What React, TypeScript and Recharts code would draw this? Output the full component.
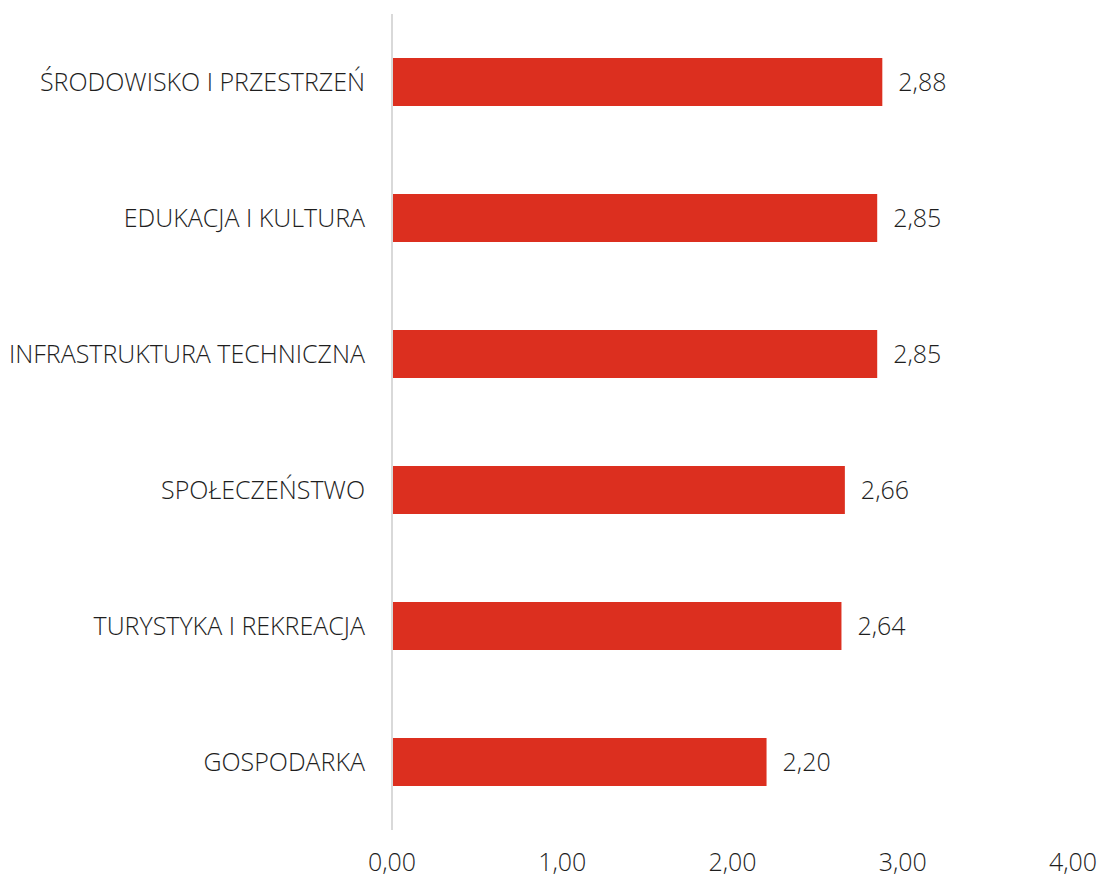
import { BarChart, Bar, XAxis, YAxis, LabelList } from "recharts";

const categories = [
  "ŚRODOWISKO I PRZESTRZEŃ",
  "EDUKACJA I KULTURA",
  "INFRASTRUKTURA TECHNICZNA",
  "SPOŁECZEŃSTWO",
  "TURYSTYKA I REKREACJA",
  "GOSPODARKA",
];
const values = [2.88, 2.85, 2.85, 2.66, 2.64, 2.2];
const xTicks = [0, 1, 2, 3, 4];

const data = categories.map((name, i) => ({ name, value: values[i] }));

const fmt = (v: number) => v.toFixed(2).replace(".", ",");

const FONT = "'Open Sans', 'Noto Sans', sans-serif";
const TEXT = { fill: "#1e1e1e", fontSize: 25, fontWeight: 300 };

export default function App() {
  return (
    <div style={{ position: "absolute", left: 0, top: 0, background: "#fff" }}>
      <BarChart
        width={1099}
        height={879}
        data={data}
        layout="vertical"
        margin={{ top: 14, right: 26, bottom: 19, left: 0 }}
        style={{ fontFamily: FONT }}
      >
        <XAxis
          type="number"
          domain={[0, 4]}
          ticks={xTicks}
          tickFormatter={fmt}
          axisLine={false}
          tickLine={false}
          tickMargin={17}
          height={30}
          tick={TEXT}
        />
        <YAxis
          type="category"
          dataKey="name"
          width={392}
          axisLine={{ stroke: "#d9d9d9", strokeWidth: 2 }}
          tickLine={false}
          tickMargin={21}
          tick={TEXT}
        />
        <Bar dataKey="value" fill="#dc2f1f" barSize={48} isAnimationActive={false}>
          <LabelList
            dataKey="value"
            position="right"
            offset={16}
            formatter={(v: any) => fmt(Number(v))}
            style={{ ...TEXT, fontFamily: FONT }}
          />
        </Bar>
      </BarChart>
    </div>
  );
}
